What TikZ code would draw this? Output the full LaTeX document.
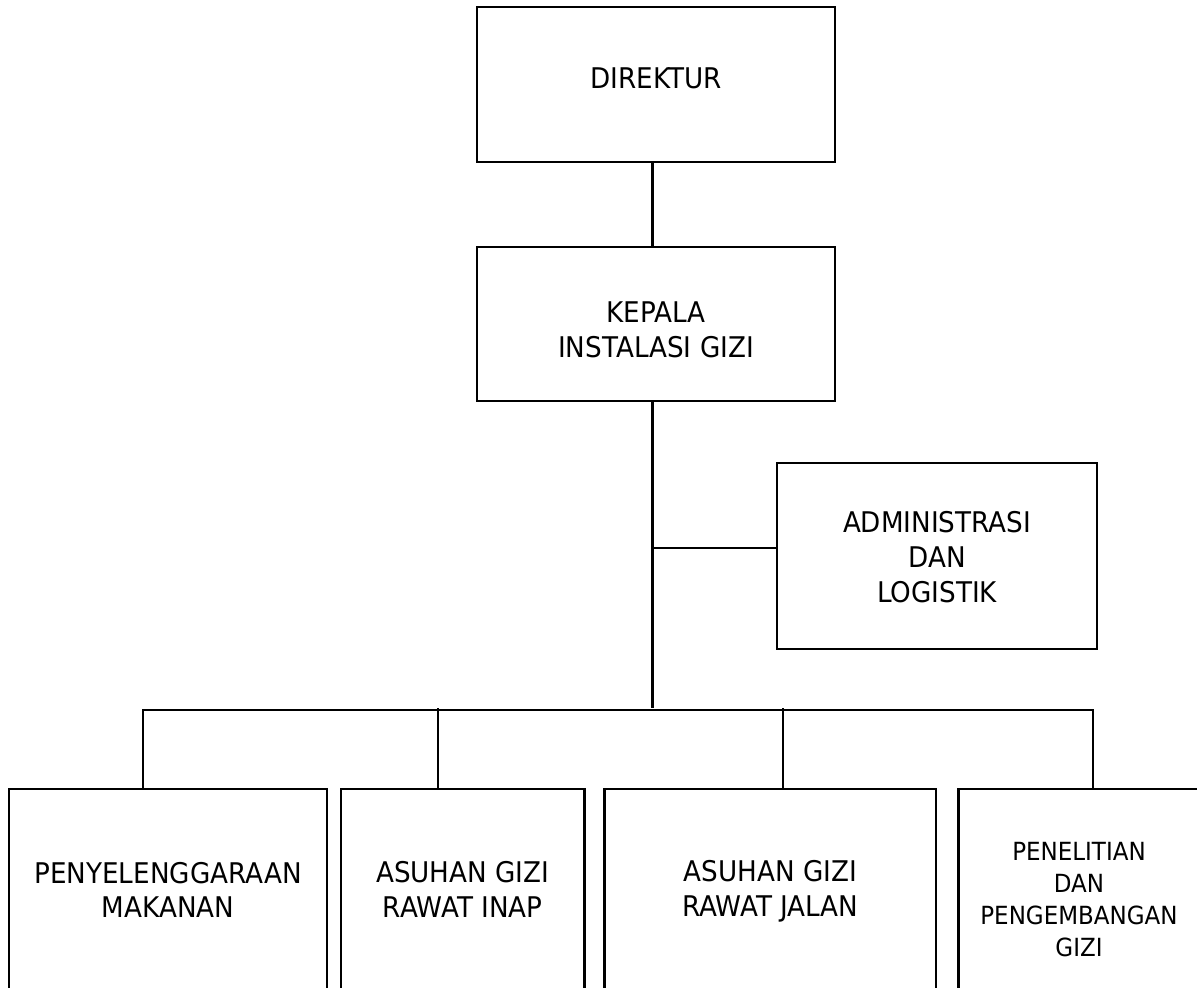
\documentclass[tikz,border=0pt]{standalone}
\usepackage{fontspec}
\setmainfont{DejaVu Sans}[FakeStretch=0.92]
\begin{document}
\begin{tikzpicture}[x=1pt,y=-1pt,
  unit/.style={draw=black, line width=2.6pt, rectangle, inner sep=0pt},
  txt/.style={align=center, inner sep=0pt, font=\fontsize{28.5}{35}\selectfont},
  smalltxt/.style={align=center, inner sep=0pt, font=\fontsize{25}{32}\selectfont},
  link/.style={draw=black, line width=2.6pt, line join=miter}]
\useasboundingbox (0,0) rectangle (1197,988);
\clip (0,0) rectangle (1197,988);

% upper levels
\node[unit, minimum width=358, minimum height=155,
      label={[txt, yshift=6.5pt]center:DIREKTUR}] (dir) at (656,84.5) {};
\node[unit, minimum width=358, minimum height=154,
      label={[txt, yshift=-6pt]center:KEPALA\\INSTALASI GIZI}] (kep) at (656,324) {};
\node[unit, minimum width=320, minimum height=186,
      label={[txt, yshift=-1pt]center:ADMINISTRASI\\DAN\\LOGISTIK}] (adm) at (937,556) {};

% lower level (boxes run past the lower edge)
\node[unit, minimum width=318, minimum height=250,
      label={[txt, yshift=24pt, font=\fontsize{28.5}{34.5}\selectfont]center:PENYELENGGARAAN\\MAKANAN}] (pm) at (168,914) {};
\node[unit, minimum width=243.3, minimum height=250,
      label={[txt, yshift=24.5pt, font=\fontsize{28.5}{34.5}\selectfont]center:ASUHAN GIZI\\RAWAT INAP}] (ri) at (462.7,914) {};
\node[unit, minimum width=331.7, minimum height=250,
      label={[txt, yshift=22.5pt, font=\fontsize{28.5}{34.5}\selectfont]center:ASUHAN GIZI\\RAWAT JALAN}] (rj) at (770.2,914) {};
\node[unit, minimum width=241.4, minimum height=250,
      label={[smalltxt, yshift=14.5pt]center:PENELITIAN\\DAN\\PENGEMBANGAN\\GIZI}] (pg) at (1079,914) {};

% connector junctions
\coordinate (trunk) at (652.5,707.5);
\coordinate (tap) at (652.5,548);
\coordinate (busL) at (143,710);
\coordinate (busR) at (1093,710);
\coordinate (dropB) at (438,708);
\coordinate (dropC) at (783,708);

% connectors
\draw[link] (dir.south -| trunk) -- (kep.north -| trunk);
\draw[link] (kep.south -| trunk) -- (trunk);
\draw[link] (tap) -- (tap -| adm.west);
\draw[link] (pm.north -| busL) -- (busL) -- (busR) -- (pg.north -| busR);
\draw[link] (dropB) -- (ri.north -| dropB);
\draw[link] (dropC) -- (rj.north -| dropC);
\end{tikzpicture}
\end{document}
